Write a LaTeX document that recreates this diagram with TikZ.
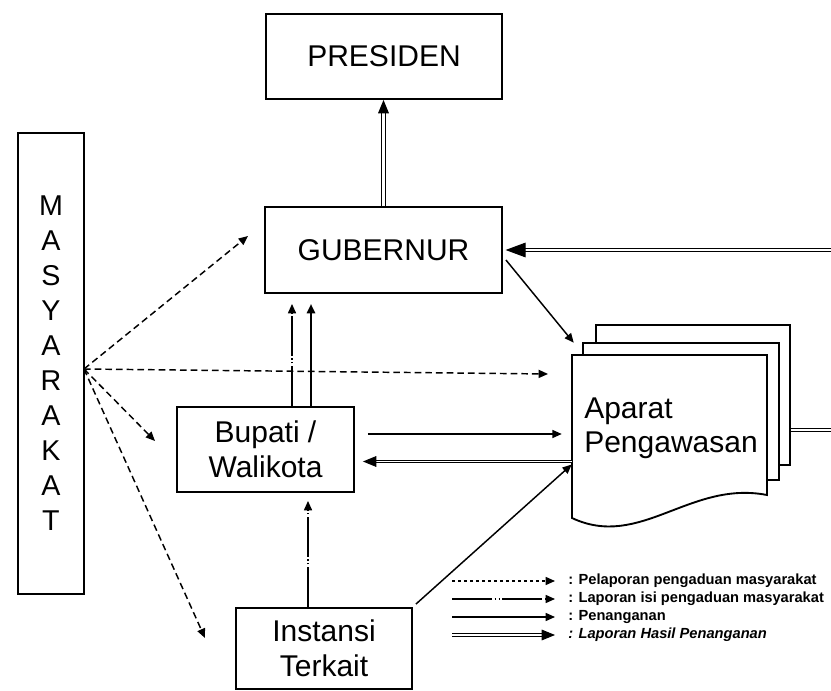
\documentclass[tikz,border=0pt]{standalone}
\usepackage{fontspec}
\setmainfont{Liberation Sans}
\usetikzlibrary{arrows.meta,positioning,calc}

\begin{document}
\begin{tikzpicture}[x=0.75pt,y=0.75pt,yscale=-1,xscale=1,
  box/.style={draw,line width=1.4pt,inner sep=0pt,align=center,font=\fontsize{22.5}{26.5}\selectfont},
  sheet/.style={draw,line width=1.4pt,fill=white,inner sep=0pt},
  lapor/.style={line width=1.1pt,dash pattern={on 5pt off 3pt},-{Triangle[length=7pt,width=6pt]}},
  isi/.style={line width=1.1pt,dash pattern={on 30pt off 2pt on 0.9pt off 2pt on 0.9pt off 2pt},-{Triangle[length=7pt,width=6pt]}},
  tangan/.style={line width=1.1pt,-{Triangle[length=7pt,width=6pt]}},
  hasil/.style={double,double distance=1.1pt,line width=0.75pt,-{Triangle[length=10pt,width=8pt]}},
  legtext/.style={anchor=west,inner sep=0pt,font=\fontsize{11}{13}\selectfont\bfseries}
]
\useasboundingbox (0,0) rectangle (831,691);

%Shape: Rectangle [PRESIDEN]
\node[box,minimum width=177pt,minimum height=63.75pt] (pres) at (384,56.5) {PRESIDEN};
%Shape: Rectangle [GUBERNUR]
\node[box,minimum width=177.75pt,minimum height=64.5pt] (gub) at (383.5,250) {GUBERNUR};
%Shape: Rectangle [MASYARAKAT]
\node[box,minimum width=49.5pt,minimum height=345.75pt,font=\fontsize{21.5}{26.25}\selectfont] (mas) at (51,363.5) {M\\A\\S\\Y\\A\\R\\A\\K\\A\\T};
%Shape: Rectangle [Bupati]
\node[box,minimum width=132.75pt,minimum height=63.75pt] (bup) at (265.5,449.5) {Bupati /\\Walikota};
%Shape: Rectangle [Instansi]
\node[box,minimum width=132pt,minimum height=60.75pt] (inst) at (324,648.5) {Instansi\\Terkait};

%Shape: Document stack [Aparat]
\node[sheet,minimum width=145.5pt,minimum height=105pt] (apc) at (693,395) {};
\node[sheet,minimum width=147pt,minimum height=102.75pt] (apb) at (681,411.5) {};
\draw[line width=1.4pt,fill=white] (572,355) -- (767,355) -- (767,495) .. controls (690,480) and (640,550) .. (572,518) -- cycle;
\node[minimum width=146.25pt,minimum height=122.25pt,inner sep=0pt] (ap) at (669.5,436.5) {};
% Text Node
\node[anchor=west,align=left,inner sep=0pt,font=\fontsize{22.5}{25.5}\selectfont] (aplabel) at (584,428) {Aparat\\Pengawasan};

%Dashed lines from masyarakat
\coordinate (src) at (84,369);
\coordinate (lpGub) at (248,236);
\coordinate (lpAp) at (548,374);
\coordinate (lpBup) at (155,441);
\coordinate (lpInst) at (205,638);
\draw[lapor] (src) -- (lpGub);
\draw[lapor] (src) -- (lpAp);
\draw[lapor] (src) -- (lpBup);
\draw[lapor] (src) -- (lpInst);

%Straight Lines [up to presiden]
\draw[hasil,double distance=1.6pt,line width=0.9pt] (gub.north) -- (gub.north |- pres.south);

%Straight Lines [bupati up to gubernur]
\coordinate (b1) at ($(bup.north)+(26.5,0)$);
\coordinate (b2) at ($(bup.north)+(45.5,0)$);
\draw[isi,shorten >=7.5pt] (b1) -- (b1 |- gub.south);
\draw[tangan,line width=1.8pt,shorten >=7.5pt] (b2) -- (b2 |- gub.south);

%Straight Lines [instansi up to bupati]
\coordinate (i1) at ($(inst.north)+(-16,0)$);
\draw[isi,shorten >=6pt] (i1) -- (i1 |- bup.south);

%Straight Lines [penanganan]
\draw[tangan] ($(gub.east)+(3,10)$) -- ($(ap.north west)+(2,-12)$);
\draw[tangan] ($(bup.east)+(13,-15.5)$) -- ($(ap.west)+(-10,-2.5)$);
\draw[tangan] ($(inst.north east)+(3,-3)$) -- ($(ap.west)+(0,28)$);

%Double lines [laporan hasil]
\draw[hasil] ($(ap.west)+(0,25)$) -- ($(bup.east)+(8,12)$);
\coordinate (rEdge1) at (831,250);
\coordinate (rEdge2) at (831,430);
\draw[hasil,-{Triangle[length=15pt,width=11pt]},shorten >=2pt] (rEdge1) -- (gub.east);
\draw[hasil,-] (apc.east |- rEdge2) -- (rEdge2);

%Legend
\coordinate (lg1a) at (452,581); \coordinate (lg1b) at (555,581);
\coordinate (lg2a) at (452,599); \coordinate (lg2b) at (555,599);
\coordinate (lg3a) at (452,617); \coordinate (lg3b) at (555,617);
\coordinate (lg4a) at (452,635); \coordinate (lg4b) at (555,635);
\draw[lapor,dash pattern={on 2.5pt off 2pt}] (lg1a) -- (lg1b);
\draw[isi] (lg2a) -- (lg2b);
\draw[tangan] (lg3a) -- (lg3b);
\draw[hasil] (lg4a) -- (lg4b);
% Text Node
\node[legtext] (lg1) at (568,581) {: Pelaporan pengaduan masyarakat};
\node[legtext] (lg2) at (568,599) {: Laporan isi pengaduan masyarakat};
\node[legtext] (lg3) at (568,617) {: Penanganan};
\node[legtext] (lg4) at (568,635) {\itshape : Laporan Hasil Penanganan};

\end{tikzpicture}
\end{document}
